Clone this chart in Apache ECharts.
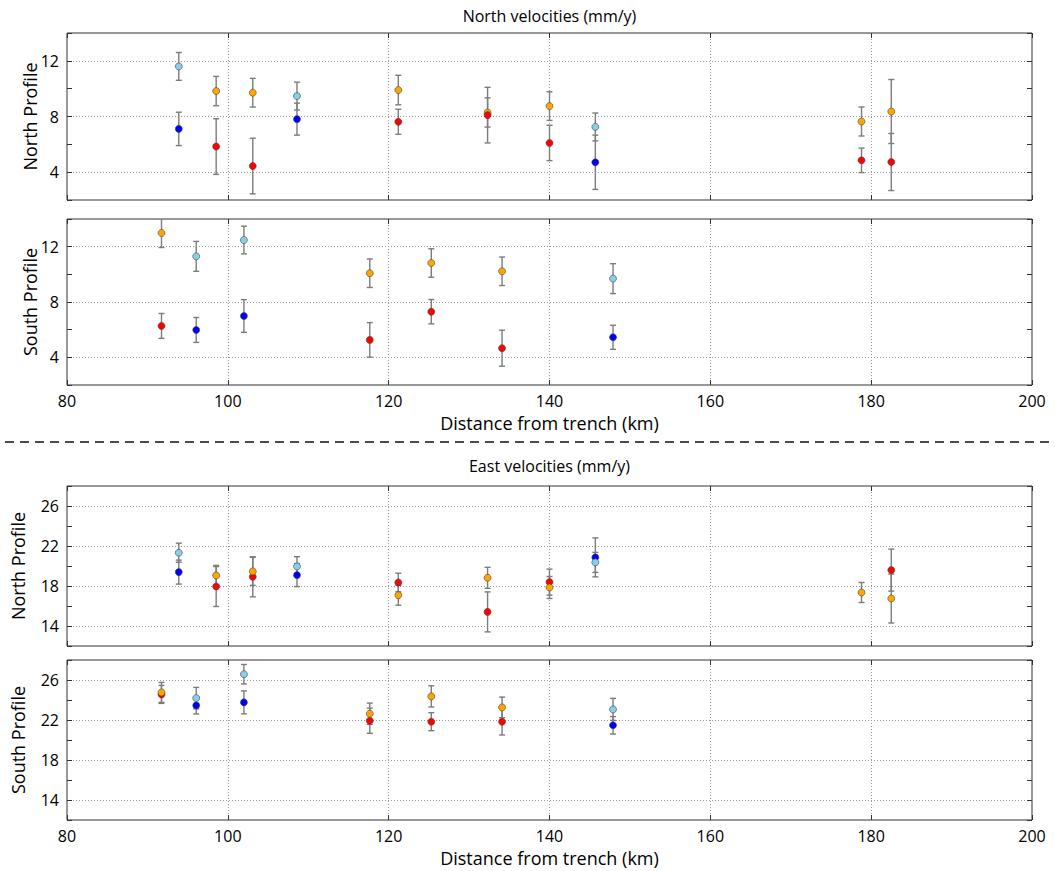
<!DOCTYPE html>
<html><head><meta charset="utf-8">
<script src="https://cdn.jsdelivr.net/npm/echarts@6/dist/echarts.min.js"></script>
<style>html,body{margin:0;padding:0;background:#fff}#c{width:1055px;height:871px}</style>
</head><body><div id="c"></div>
<script>
// ---------- DATA ----------
const sectionTitles = ['North velocities (mm/y)', 'East velocities (mm/y)'];
const profileNames = ['North Profile', 'South Profile', 'North Profile', 'South Profile'];
const xAxisTitle = 'Distance from trench (km)';
const xRange = [80, 200];
const yRangeNorthVel = [2, 14];
const yRangeEastVel = [12, 28];

// each point: [distance (km), velocity (mm/y), error (mm/y)]
// North velocities – North profile
const nvN_skyblue = [[93.9, 11.6, 1.0], [108.6, 9.47, 1.0], [145.7, 7.25, 1.0]];
const nvN_blue    = [[93.9, 7.11, 1.2], [108.6, 7.81, 1.15], [145.7, 4.71, 1.95]];
const nvN_orange  = [[98.55, 9.83, 1.05], [103.1, 9.71, 1.03], [121.2, 9.9, 1.06], [132.3, 8.29, 1.05], [140.0, 8.75, 1.03], [178.8, 7.64, 1.04], [182.5, 8.36, 2.3]];
const nvN_red     = [[98.55, 5.84, 2.0], [103.1, 4.44, 2.0], [121.2, 7.62, 0.9], [132.3, 8.1, 2.0], [140.0, 6.1, 1.27], [178.8, 4.85, 0.88], [182.5, 4.73, 2.05]];
// North velocities – South profile
const nvS_skyblue = [[96.07, 11.3, 1.08], [102.0, 12.48, 1.0], [147.9, 9.69, 1.08]];
const nvS_blue    = [[96.07, 5.98, 0.9], [102.0, 6.99, 1.18], [147.9, 5.45, 0.87]];
const nvS_orange  = [[91.75, 12.99, 1.05], [117.65, 10.08, 1.03], [125.3, 10.82, 1.03], [134.1, 10.22, 1.03]];
const nvS_red     = [[91.75, 6.27, 0.9], [117.65, 5.26, 1.25], [125.3, 7.3, 0.88], [134.1, 4.66, 1.3]];
// East velocities – North profile
const evN_skyblue = [[93.9, 21.33, 0.95], [108.6, 19.96, 0.97], [145.7, 20.36, 1.0]];
const evN_blue    = [[93.9, 19.39, 1.2], [108.6, 19.09, 1.15], [145.7, 20.86, 1.95]];
const evN_orange  = [[98.55, 19.06, 1.0], [103.1, 19.46, 1.4], [121.2, 17.08, 1.0], [132.3, 18.82, 1.05], [140.0, 17.85, 1.1], [178.8, 17.35, 1.0], [182.5, 16.75, 2.45]];
const evN_red     = [[98.55, 17.95, 2.0], [103.1, 18.92, 2.0], [121.2, 18.35, 0.93], [132.3, 15.41, 2.0], [140.0, 18.39, 1.3], [182.5, 19.59, 2.1]];
// East velocities – South profile
const evS_skyblue = [[96.07, 24.19, 1.07], [102.0, 26.58, 0.97], [147.9, 23.06, 1.1]];
const evS_blue    = [[96.07, 23.46, 0.86], [102.0, 23.76, 1.15], [147.9, 21.47, 0.87]];
const evS_orange  = [[91.75, 24.76, 1.0], [117.65, 22.63, 1.06], [125.3, 24.36, 1.06], [134.1, 23.26, 1.03]];
const evS_red     = [[91.75, 24.56, 0.9], [117.65, 21.93, 1.26], [125.3, 21.83, 0.9], [134.1, 21.83, 1.33]];

// ---------- STYLE / LAYOUT ----------
const COLORS = {skyblue: '#87CEEB', blue: '#0000FF', orange: '#FFA500', red: '#FF0000'};
const FONT = '"Open Sans", Lato, sans-serif';
const panels = [
  {top: 33, height: 167, yr: yRangeNorthVel, labelMod: 0, nameGap: 28, showX: false,
   sets: [['skyblue', nvN_skyblue], ['blue', nvN_blue], ['orange', nvN_orange], ['red', nvN_red]]},
  {top: 219, height: 166, yr: yRangeNorthVel, labelMod: 0, nameGap: 28, showX: true,
   sets: [['skyblue', nvS_skyblue], ['blue', nvS_blue], ['red', nvS_red], ['orange', nvS_orange]]},
  {top: 486, height: 160, yr: yRangeEastVel, labelMod: 2, nameGap: 40, showX: false,
   sets: [['blue', evN_blue], ['skyblue', evN_skyblue], ['red', evN_red], ['orange', evN_orange]]},
  {top: 660, height: 160, yr: yRangeEastVel, labelMod: 2, nameGap: 40, showX: true,
   sets: [['blue', evS_blue], ['skyblue', evS_skyblue], ['red', evS_red], ['orange', evS_orange]]}
];
const LEFT = 67, RIGHT = 23;
const gridLine = {show: true, lineStyle: {color: ['rgba(0,0,0,0)', '#9a9a9a'], type: [1, 2], width: 1}};
const tickStyle = {inside: true, length: 5, lineStyle: {color: '#333', width: 1}};

function errRender(params, api) {
  const x = api.value(0), y = api.value(1), e = api.value(2);
  const t = api.coord([x, y + e]), b = api.coord([x, y - e]);
  const cw = 3;
  const style = {stroke: '#7c7c7c', lineWidth: 1.4, fill: null};
  return {type: 'group', children: [
    {type: 'line', shape: {x1: t[0], y1: t[1], x2: b[0], y2: b[1]}, style},
    {type: 'line', shape: {x1: t[0] - cw, y1: t[1], x2: t[0] + cw, y2: t[1]}, style},
    {type: 'line', shape: {x1: b[0] - cw, y1: b[1], x2: b[0] + cw, y2: b[1]}, style}
  ]};
}

const grid = [], xAxis = [], yAxis = [], series = [];
panels.forEach((p, i) => {
  grid.push({left: LEFT, right: RIGHT, top: p.top, height: p.height, show: true,
    borderColor: '#333', borderWidth: 1, backgroundColor: '#fff'});
  xAxis.push({gridIndex: i, type: 'value', min: xRange[0], max: xRange[1], interval: 20,
    axisLine: {show: false}, axisTick: tickStyle,
    axisLabel: {show: p.showX, fontSize: 16, color: '#000', fontFamily: FONT, margin: 8},
    splitLine: {show: true, lineStyle: {color: '#9a9a9a', type: [1, 2], width: 1}},
    name: p.showX ? xAxisTitle : '', nameLocation: 'middle', nameGap: 29, nameMoveOverlap: false,
    nameTextStyle: {fontSize: 18, color: '#000', fontFamily: FONT}});
  yAxis.push({gridIndex: i, type: 'value', min: p.yr[0], max: p.yr[1], interval: 2,
    axisLine: {show: false}, axisTick: tickStyle,
    axisLabel: {fontSize: 16, color: '#000', fontFamily: FONT, margin: 8,
      formatter: v => (((v % 4) + 4) % 4 === p.labelMod && v !== p.yr[0] && v !== p.yr[1]) ? String(v) : ''},
    splitLine: gridLine,
    name: profileNames[i], nameLocation: 'middle', nameGap: p.nameGap, nameMoveOverlap: false,
    nameTextStyle: {fontSize: 18, color: '#000', fontFamily: FONT}});
});
// mirrored tick axes on top / right
panels.forEach((p, i) => {
  xAxis.push({gridIndex: i, type: 'value', position: 'top', min: xRange[0], max: xRange[1], interval: 20,
    axisLine: {show: false}, axisTick: tickStyle, axisLabel: {show: false}, splitLine: {show: false}});
  yAxis.push({gridIndex: i, type: 'value', position: 'right', min: p.yr[0], max: p.yr[1], interval: 2,
    axisLine: {show: false}, axisTick: tickStyle, axisLabel: {show: false}, splitLine: {show: false}});
});
panels.forEach((p, i) => {
  const allPts = [];
  p.sets.forEach(s => s[1].forEach(pt => allPts.push(pt)));
  series.push({type: 'custom', xAxisIndex: i, yAxisIndex: i, renderItem: errRender,
    data: allPts, clip: true, z: 2, silent: true});
  p.sets.forEach((s, k) => {
    series.push({type: 'scatter', xAxisIndex: i, yAxisIndex: i, symbol: 'circle', symbolSize: 7,
      data: s[1].map(pt => [pt[0], pt[1]]), z: 3 + k, silent: true,
      itemStyle: {color: COLORS[s[0]], borderColor: '#444', borderWidth: 0.6, opacity: 1}});
  });
});

const chart = echarts.init(document.getElementById('c'), null, {renderer: 'svg'});
chart.setOption({
  animation: false,
  backgroundColor: '#fff',
  grid, xAxis, yAxis, series,
  graphic: [
    {type: 'text', x: 549.5, y: 16, style: {text: sectionTitles[0], textAlign: 'center', textVerticalAlign: 'middle',
      font: '16px ' + FONT, fill: '#000'}},
    {type: 'text', x: 549.5, y: 466, style: {text: sectionTitles[1], textAlign: 'center', textVerticalAlign: 'middle',
      font: '16px ' + FONT, fill: '#000'}},
    {type: 'line', shape: {x1: 5, y1: 442, x2: 1052, y2: 442},
      style: {stroke: '#111', lineWidth: 1.6, lineDash: [9, 6]}}
  ]
});
</script></body></html>
